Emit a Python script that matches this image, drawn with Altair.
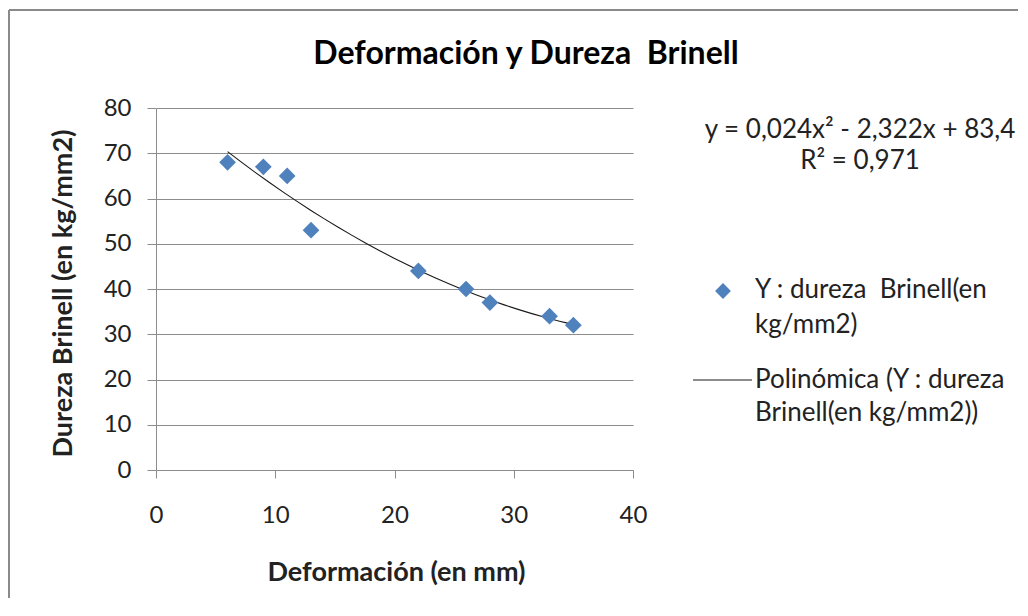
import altair as alt
import pandas as pd

# ---- data ----
deformacion = [6, 9, 11, 13, 22, 26, 28, 33, 35]
dureza = [68, 67, 65, 53, 44, 40, 37, 34, 32]
x_ticks = [0, 10, 20, 30, 40]
y_ticks = [0, 10, 20, 30, 40, 50, 60, 70, 80]

NB = "\u00a0"
title_text = "Deformación y Dureza" + NB + " Brinell"
x_title = "Deformación (en mm)"
y_title = "Dureza Brinell (en kg/mm2)"
eq_line1 = "y = 0,024x² - 2,322x + 83,4"
eq_line2 = "R² = 0,971"
leg1 = ["Y : dureza" + NB + " Brinell(en", "kg/mm2)"]
leg2 = ["Polinómica (Y : dureza", "Brinell(en kg/mm2))"]

df = pd.DataFrame({"x": deformacion, "y": dureza})

FONT = "Lato"
TXT = "#222222"
GRID = "#8c8c8c"
BLUE = "#4F81BD"

W, H = 477, 362
PAD_L, PAD_T = 148, 100
PAD_R, PAD_B = 385, 128

LBL = 24   # tick labels
TTL = 27   # axis titles
MAIN = 32  # chart title
LEG = 26   # legend / equation text

xs = alt.Scale(domain=[0, 40], nice=False, zero=False)
ys = alt.Scale(domain=[0, 80], nice=False, zero=False)

x_axis = alt.Axis(
    values=x_ticks, grid=False, tickSize=8, tickColor=GRID, domainColor=GRID,
    labelFontSize=LBL, labelFont=FONT, labelColor=TXT, labelPadding=25,
    labelFlush=False,
    title=x_title, titleFont=FONT, titleFontSize=TTL, titleFontWeight="bold",
    titleColor=TXT, titleX=240, titleY=102, titleBaseline="middle",
    titleAlign="center",
)
y_axis = alt.Axis(
    values=y_ticks, grid=True, gridColor=GRID, gridWidth=1.2, tickSize=9,
    tickColor=GRID, domainColor=GRID, labelFontSize=LBL, labelFont=FONT,
    labelColor=TXT, labelPadding=16,
    title=y_title, titleFont=FONT, titleFontSize=TTL, titleFontWeight="bold",
    titleColor=TXT, titleX=-93, titleY=185, titleBaseline="middle",
    titleAlign="center", titleAngle=-90,
)

base = alt.Chart(df)

points = base.mark_point(
    shape="diamond", filled=True, size=280, color=BLUE, opacity=1
).encode(
    x=alt.X("x:Q", scale=xs, axis=x_axis),
    y=alt.Y("y:Q", scale=ys, axis=y_axis),
)

trend = base.transform_regression(
    "x", "y", method="poly", order=2
).mark_line(color="#1a1a1a", strokeWidth=1.1).encode(
    x=alt.X("x:Q", scale=xs),
    y=alt.Y("y:Q", scale=ys),
)

one = pd.DataFrame({"k": [0]})

# outer frame (top and left edges visible)
frame_left = alt.Chart(one).mark_rule(color="#8a8a8a", strokeWidth=2).encode(
    x=alt.value(-147), y=alt.value(-98), y2=alt.value(520)
)
frame_top = alt.Chart(one).mark_rule(color="#8a8a8a", strokeWidth=2).encode(
    x=alt.value(-147), x2=alt.value(900), y=alt.value(-98)
)

def text_at(txt, x, y, align="left", size=LEG, weight="normal", color=TXT):
    return alt.Chart(pd.DataFrame({"t": [txt]})).mark_text(
        font=FONT, fontSize=size, color=color, align=align, baseline="middle",
        fontWeight=weight,
    ).encode(text="t:N", x=alt.value(x), y=alt.value(y))

title = text_at(title_text, 370, -54, "center", size=MAIN, weight="bold",
                color="#000000")

eq1 = text_at(eq_line1, 704, 22, "center")
eq2 = text_at(eq_line2, 704, 53, "center")

leg_diamond = alt.Chart(one).mark_point(
    shape="diamond", filled=True, size=250, color=BLUE, opacity=1
).encode(x=alt.value(567), y=alt.value(183))
leg_line = alt.Chart(one).mark_rule(color="#1a1a1a", strokeWidth=1.1).encode(
    x=alt.value(537), x2=alt.value(596), y=alt.value(272)
)
l1a = text_at(leg1[0], 599, 182)
l1b = text_at(leg1[1], 599, 217)
l2a = text_at(leg2[0], 599, 272)
l2b = text_at(leg2[1], 599, 305)

chart = alt.layer(
    frame_left, frame_top, trend, points, title, eq1, eq2,
    leg_diamond, leg_line, l1a, l1b, l2a, l2b,
).properties(
    width=W, height=H,
    autosize=alt.AutoSizeParams(type="none"),
    padding={"left": PAD_L, "top": PAD_T, "right": PAD_R, "bottom": PAD_B},
    background="white",
).configure_view(stroke="transparent")

chart.save("out.html", embed_options={"renderer": "svg", "actions": False})
